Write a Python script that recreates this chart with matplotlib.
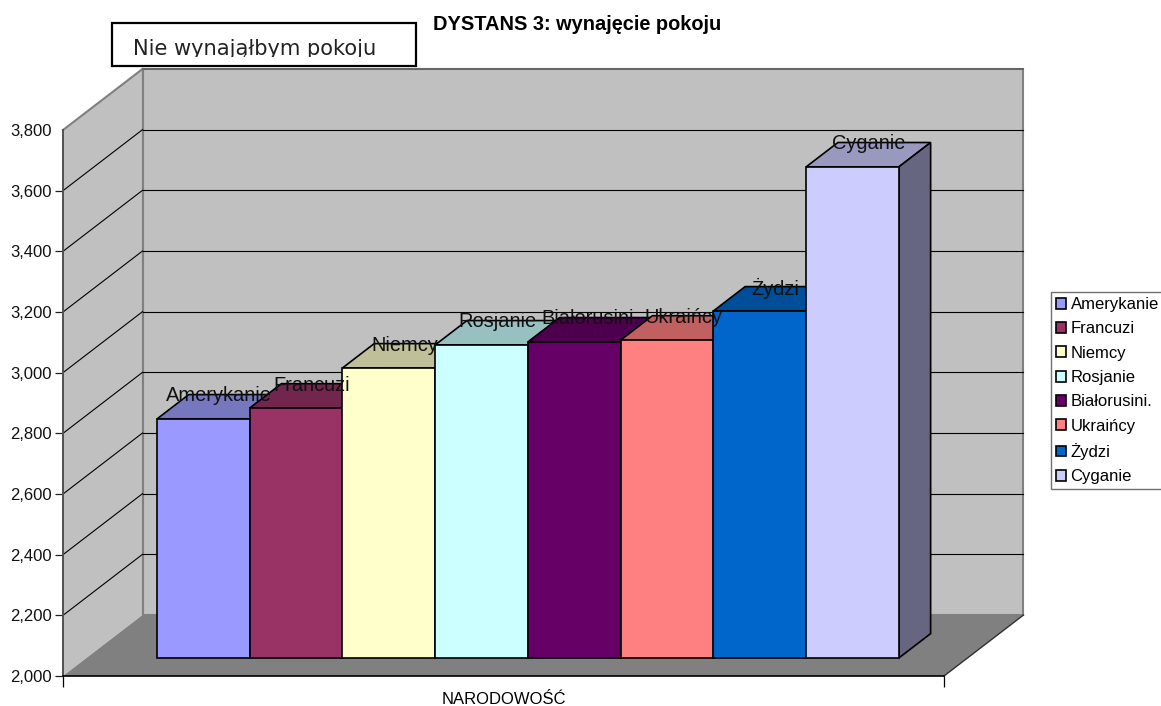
import matplotlib
matplotlib.use('Agg')
import matplotlib.pyplot as plt
import matplotlib.patches as patches
from matplotlib.lines import Line2D
from matplotlib.ticker import StrMethodFormatter
from matplotlib.transforms import Affine2D, IdentityTransform

plt.rcParams['font.family'] = ['Liberation Sans', 'DejaVu Sans']

narodowosci = ['Amerykanie', 'Francuzi', 'Niemcy', 'Rosjanie', 'Białorusini.', 'Ukraińcy', 'Żydzi', 'Cyganie']
wartosci = [2788, 2824, 2956, 3032, 3042, 3048, 3144, 3619]
kolory = ['#9999FF', '#993366', '#FFFFCC', '#CCFFFF', '#660066', '#FF8080', '#0066CC', '#CCCCFF']
gorne = ['#7777C0', '#73264D', '#BFBF99', '#99C0C0', '#4D004D', '#C06060', '#004D99', '#9999C0']
boczne = ['#666699', '#662244', '#808066', '#668080', '#330033', '#804040', '#003366', '#666680']
skala_y = [2000, 2200, 2400, 2600, 2800, 3000, 3200, 3400, 3600, 3800]

W, H = 1161, 706
fig = plt.figure(figsize=(W / 100, H / 100), dpi=100)
ax = fig.add_axes([63 / W, (H - 676) / H, 881 / W, 546 / H])
ax.patch.set_visible(False)
ax.set_xlim(-0.75, 8.75)
ax.set_ylim(2000, 3800)
ax.set_autoscale_on(False)

# przesuniecie glebi w pikselach (sciana tylna)
GL_X, GL_Y = 79.5, 61
# plaszczyzna slupkow i glebokosc slupka
BAR_D = 0.295
BAR_G = 0.4
BAR_DX = 0.01
piksele = IdentityTransform()


def rzut(x, v, d=0.0):
    px, py = ax.transData.transform((x, v))
    return px + GL_X * d, py + GL_Y * d


def wielokat(punkty, **kw):
    p = patches.Polygon(punkty, closed=True, transform=piksele, clip_on=False, **kw)
    ax.add_patch(p)
    return p


def linia(a, b, **kw):
    ax.add_line(Line2D([a[0], b[0]], [a[1], b[1]], transform=piksele, clip_on=False, **kw))


x0, x1 = ax.get_xlim()
y0, y1 = ax.get_ylim()

# sciany i podloga
wielokat([rzut(x0, y0), rzut(x0, y0, 1), rzut(x0, y1, 1), rzut(x0, y1)],
         facecolor='#C0C0C0', edgecolor='none', zorder=1)
wielokat([rzut(x0, y0, 1), rzut(x1, y0, 1), rzut(x1, y1, 1), rzut(x0, y1, 1)],
         facecolor='#C0C0C0', edgecolor='#808080', linewidth=1.5, zorder=1)
wielokat([rzut(x0, y0), rzut(x1, y0), rzut(x1, y0, 1), rzut(x0, y0, 1)],
         facecolor='#808080', edgecolor='none', zorder=1.1)
linia(rzut(x0, y1), rzut(x0, y1, 1), color='#808080', linewidth=1.5, zorder=1.2)
linia(rzut(x1, y0), rzut(x1, y0, 1), color='#303030', linewidth=1, zorder=1.2)
linia(rzut(x0, y0, 1), rzut(x0, y1, 1), color='#808080', linewidth=1.5, zorder=1.2)

for v in skala_y[1:-1]:
    linia(rzut(x0, v), rzut(x0, v, 1), color='black', linewidth=0.8, zorder=1.3)
    linia(rzut(x0, v, 1), rzut(x1, v, 1), color='black', linewidth=0.8, zorder=1.3)
linia(rzut(x0, y1, 1), rzut(x1, y1, 1), color='#606060', linewidth=1.2, zorder=1.3)

# plaszczyzna przednia slupkow
przod = ax.transData + Affine2D().translate(GL_X * BAR_D, GL_Y * BAR_D)
for i, (nazwa, v, kolor) in enumerate(zip(narodowosci, wartosci, kolory)):
    z = 2 + i * 0.1
    lewo, prawo = i + BAR_DX, i + 1 + BAR_DX
    wielokat([rzut(lewo, v, BAR_D), rzut(lewo, v, BAR_D + BAR_G), rzut(prawo, v, BAR_D + BAR_G), rzut(prawo, v, BAR_D)],
             facecolor=gorne[i], edgecolor='black', linewidth=1.2, zorder=z)
    wielokat([rzut(prawo, y0, BAR_D), rzut(prawo, y0, BAR_D + BAR_G), rzut(prawo, v, BAR_D + BAR_G), rzut(prawo, v, BAR_D)],
             facecolor=boczne[i], edgecolor='black', linewidth=1.2, zorder=z)
    ax.bar(i + 0.5 + BAR_DX, v - y0, width=1, bottom=y0, color=kolor, edgecolor='black', linewidth=1.2,
           transform=przod, clip_on=False, zorder=z + 0.05, label=nazwa)

for i, (nazwa, v) in enumerate(zip(narodowosci, wartosci)):
    px, py = rzut(i + 0.5 + BAR_DX, v, BAR_D)
    ax.text(px + 16, py + 23, nazwa, transform=piksele, ha='center', va='center',
            fontsize=14.4, color='#111111', zorder=4, clip_on=False)

# osie
ax.spines['top'].set_visible(False)
ax.spines['right'].set_visible(False)
ax.spines['left'].set_color('#505050')
ax.spines['left'].set_linewidth(1.4)
ax.spines['bottom'].set_linewidth(1.2)
ax.set_yticks(skala_y)
ax.yaxis.set_major_formatter(StrMethodFormatter('{x:,.0f}'))
ax.tick_params(axis='y', length=6, width=0.9, labelsize=12, pad=2, color='#202020', labelcolor='#111111')
ax.yaxis.get_major_ticks()[-1].tick1line.set_visible(False)
ax.set_xticks([x0, x1])
ax.set_xticklabels(['', ''])
ax.tick_params(axis='x', length=8, width=0.9)
ax.set_xlabel('NARODOWOŚĆ', fontsize=12, va='center')
ax.xaxis.set_label_coords(0.5, -24 / 546)

leg = ax.legend(loc='upper left', bbox_to_anchor=(1051 / W, (H - 292) / H), bbox_transform=fig.transFigure,
                fontsize=12, frameon=True, fancybox=False, framealpha=1, edgecolor='#707070',
                borderaxespad=0, borderpad=0.3, labelspacing=0.56, handlelength=0.62, handleheight=0.62,
                handletextpad=0.25)
leg.get_frame().set_linewidth(1)
leg.set_clip_on(False)

fig.text(433 / W, (H - 25) / H, 'DYSTANS 3: wynajęcie pokoju', fontsize=14.4, fontweight='bold', va='center', ha='left')

# ramka z napisem, dol tekstu obciety jak w oryginale
ramka = patches.Rectangle((112, H - 66), 304, 43, transform=piksele, facecolor='white', edgecolor='black',
                          linewidth=1.6, clip_on=False, zorder=6)
ax.add_patch(ramka)
napis = ax.text(133, H - 55, 'Nie wynająłbym pokoju', transform=piksele, fontsize=15.1, family='DejaVu Sans',
                va='baseline', ha='left', color='#222222', zorder=7)
napis.set_clip_path(patches.Rectangle((112, H - 57), 304, 34, transform=piksele))
napis.set_clip_on(True)

fig.savefig('out.png', dpi=100)
